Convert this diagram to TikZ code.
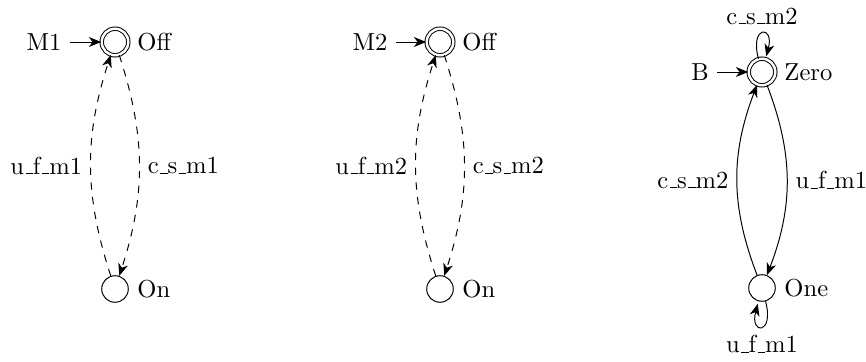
\documentclass[tikz,border=0pt]{standalone}
\usetikzlibrary{automata,arrows.meta}
\newcommand\us{\leavevmode\kern.06em\vbox{\hrule width.3em}}
\begin{document}
\begin{tikzpicture}[x=0.01429cm,y=-0.01429cm,
  >={Stealth[length=5pt,width=4pt,inset=1.5pt]},
  every state/.style={draw,circle,minimum size=0.38cm,inner sep=0pt},
  acc/.style={double,double distance=1pt},
  lbl/.style={draw=none,inner sep=3.33pt}]
\useasboundingbox (0,0) rectangle (866,362);
% group 1
\node[state,acc,label=right:Off] (off1) at (115,42) {};
\node[state,label=right:On] (on1) at (115,289) {};
\node[lbl] (m1) at (44,42) {M1};
\draw[->] (m1) -- (off1);
\draw[->,dashed] (off1) edge[bend left=18] node[auto] {c\us s\us m1} (on1);
\draw[->,dashed] (on1) edge[bend left=18] node[auto] {u\us f\us m1} (off1);
% group 2
\node[state,acc,label=right:Off] (off2) at (440,42) {};
\node[state,label=right:On] (on2) at (440,289) {};
\node[lbl] (m2) at (370,42) {M2};
\draw[->] (m2) -- (off2);
\draw[->,dashed] (off2) edge[bend left=18] node[auto] {c\us s\us m2} (on2);
\draw[->,dashed] (on2) edge[bend left=18] node[auto] {u\us f\us m2} (off2);
% group 3
\node[state,acc,label=right:Zero] (zero) at (762,72) {};
\node[state,label=right:One] (one) at (762,288) {};
\node[lbl] (b) at (700,72) {B};
\draw[->] (b) -- (zero);
\draw[->] (zero) edge[bend left=21] node[auto] {u\us f\us m1} (one);
\draw[->] (one) edge[bend left=21] node[auto] {c\us s\us m2} (zero);
\draw[->] (zero) edge[loop above] node[above] {c\us s\us m2} (zero);
\draw[->] (one) edge[loop below] node[below] {u\us f\us m1} (one);
\end{tikzpicture}
\end{document}
